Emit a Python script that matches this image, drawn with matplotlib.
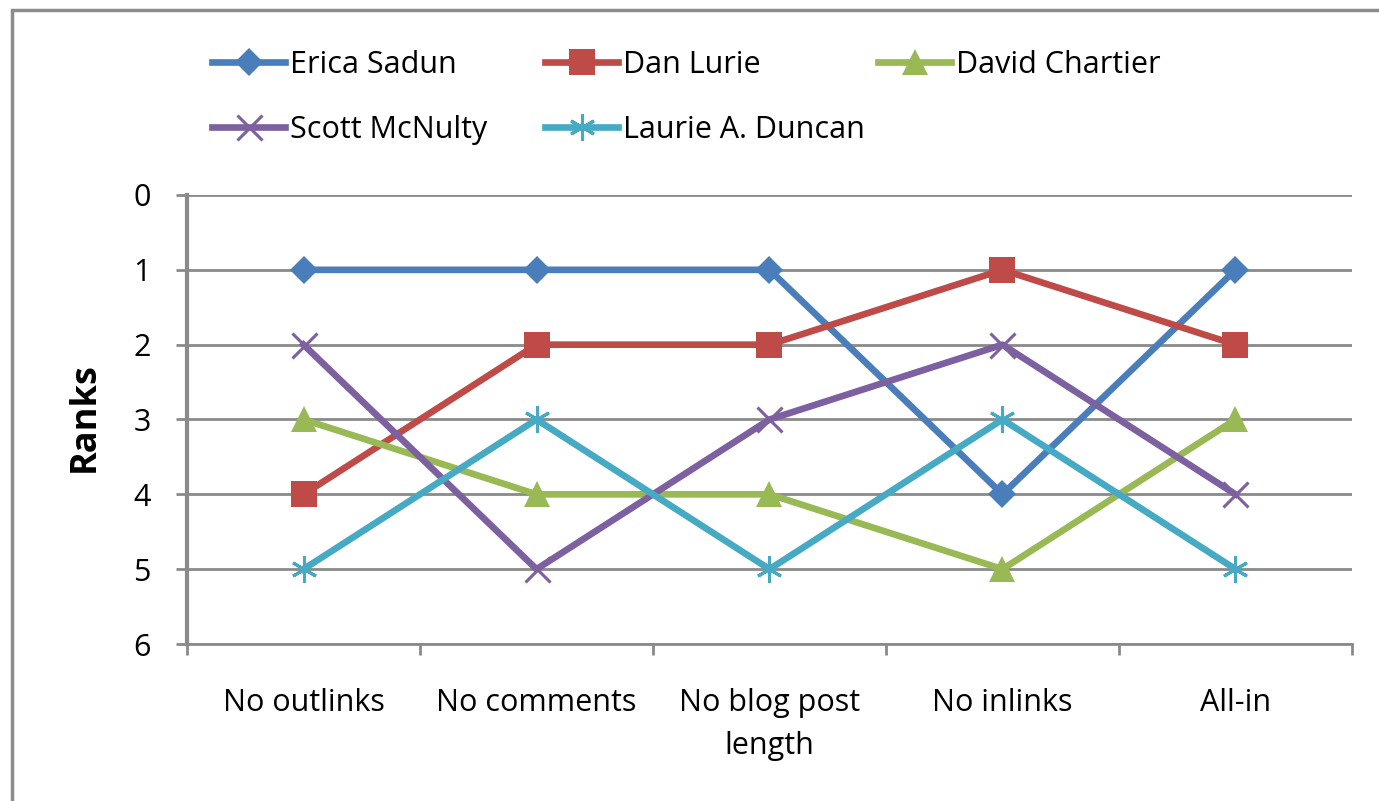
import matplotlib
matplotlib.use("Agg")
import matplotlib.pyplot as plt
from matplotlib.patches import Rectangle

plt.rcParams['font.family'] = ['Open Sans', 'DejaVu Sans']

# Ranking of each author under the different feature settings
categories = ["No outlinks", "No comments", "No blog post\nlength", "No inlinks", "All-in"]
series_names = ["Erica Sadun", "Dan Lurie", "David Chartier", "Scott McNulty", "Laurie A. Duncan"]
erica_sadun = [1, 1, 1, 4, 1]
dan_lurie = [4, 2, 2, 1, 2]
david_chartier = [3, 4, 4, 5, 3]
scott_mcnulty = [2, 5, 3, 2, 4]
laurie_duncan = [5, 3, 5, 3, 5]
y_ticks = [0, 1, 2, 3, 4, 5, 6]

all_series = [erica_sadun, dan_lurie, david_chartier, scott_mcnulty, laurie_duncan]
colors = ["#4A7EBB", "#BE4B48", "#98B954", "#7D60A0", "#46AAC5"]
markers = ["D", "s", "^", "x", (6, 2, 0)]
msizes = [14, 19, 19, 18, 19]

fig = plt.figure(figsize=(13.79, 8.01), dpi=100)
ax = fig.add_axes([187 / 1379, 1 - 644 / 801, (1352 - 187) / 1379, (644 - 195) / 801])

grid_col = "#8A8A8A"
x = list(range(1, len(categories) + 1))
handles = []
for vals, name, c, m, ms in zip(all_series, series_names, colors, markers, msizes):
    thin = m in ("x", (6, 2, 0))
    line, = ax.plot(x, vals, color=c, lw=4.8, marker=m, markersize=ms,
                    markeredgewidth=2.2 if thin else 0,
                    markeredgecolor=c, markerfacecolor=c, label=name,
                    solid_joinstyle="round", zorder=3)
    handles.append(line)

ax.set_xlim(0.5, len(categories) + 0.5)
ax.set_ylim(6, 0)
ax.set_yticks(y_ticks)
ax.yaxis.grid(True, color=grid_col, lw=2)
ax.set_axisbelow(True)

# category boundaries carry the tick marks, labels sit at the centres
ax.set_xticks([i + 0.5 for i in range(len(categories) + 1)])
ax.set_xticklabels([])
ax.set_xticks(x, minor=True)
ax.set_xticklabels(categories, minor=True, fontsize=22, linespacing=1.55)
ax.tick_params(axis="x", which="major", length=8, width=2, color=grid_col, direction="out")
ax.tick_params(axis="x", which="minor", length=0, pad=32)
ax.tick_params(axis="y", length=8, width=2, color=grid_col, pad=18, labelsize=22)

for s in ["top", "right"]:
    ax.spines[s].set_visible(False)
ax.spines["left"].set_color(grid_col)
ax.spines["left"].set_linewidth(3)
ax.spines["bottom"].set_color(grid_col)
ax.spines["bottom"].set_linewidth(2)

fig.text(85 / 1379, 1 - 417 / 801, "Ranks", rotation=90, ha="center", va="center",
         fontsize=26, fontweight="bold")

# legend entries laid out on a fixed grid
legend_pos = [(212, 65), (545, 65), (878, 65), (212, 130), (545, 130)]
for h, name, (lx, ly) in zip(handles, series_names, legend_pos):
    fig.legend([h], [name], loc="center left",
               bbox_to_anchor=(lx / 1379, 1 - ly / 801), frameon=False,
               fontsize=22, handlelength=2.4, handletextpad=0.15,
               borderpad=0, borderaxespad=0)

# chart frame
fig.patches.append(Rectangle((12 / 1379, -0.1), 1.2, 1.1 - 10 / 801,
                             transform=fig.transFigure, fill=False,
                             edgecolor="#8C8C8C", lw=2.5))

fig.savefig("out.png", dpi=100)
